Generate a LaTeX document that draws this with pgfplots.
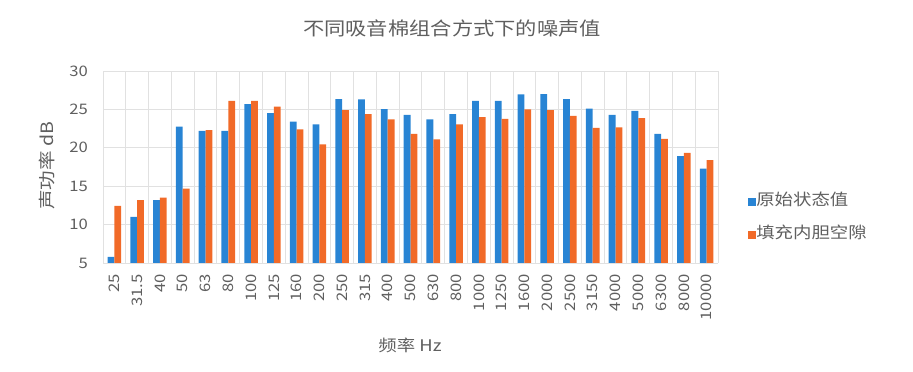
\documentclass[border=0pt]{standalone}
\usepackage{pgfplots}
\pgfplotsset{compat=1.18}
\usepackage{fontspec}
\setmainfont[FakeStretch=1.15]{Noto Sans CJK SC}
\definecolor{cblue}{RGB}{40,132,212}
\definecolor{corange}{RGB}{241,106,40}
\definecolor{txt}{RGB}{95,95,95}
\definecolor{gridc}{RGB}{225,225,225}
\pgfplotstableread{
x  a     b
0  5.8   12.45
1  11.0  13.2
2  13.2  13.5
3  22.75 14.7
4  22.2  22.3
5  22.2  26.1
6  25.7  26.1
7  24.5  25.35
8  23.4  22.4
9  23.05 20.45
10 26.35 24.9
11 26.3  24.4
12 25.05 23.7
13 24.3  21.8
14 23.7  21.1
15 24.4  23.05
16 26.1  24.0
17 26.1  23.75
18 26.95 25.0
19 27.0  24.9
20 26.35 24.15
21 25.1  22.6
22 24.3  22.65
23 24.8  23.85
24 21.8  21.15
25 18.9  19.35
26 17.3  18.4
}\datatable
\begin{document}
\begin{tikzpicture}[x=1pt,y=1pt]
\useasboundingbox (0,0) rectangle (913,372);
\begin{axis}[
  at={(103pt,109pt)}, anchor=south west,
  scale only axis, width=615pt, height=192pt,
  xmin=-0.5, xmax=26.5, ymin=5, ymax=30,
  ytick={5,10,...,30},
  xtick={0,...,26},
  xticklabels={25,31.5,40,50,63,80,100,125,160,200,250,315,400,500,630,800,1000,1250,1600,2000,2500,3150,4000,5000,6300,8000,10000},
  minor xtick={-0.5,0.5,...,26.5},
  xminorgrids, ymajorgrids,
  minor grid style={gridc, line width=0.8pt},
  major grid style={gridc, line width=0.8pt},
  axis line style={draw=none},
  major tick length=0pt, minor tick length=0pt,
  ybar=0pt, bar width=6.8pt,
  /pgf/number format/assume math mode=true,
  tick label style={font=\fontsize{14.5}{14.5}\selectfont, text=txt},
  xticklabel style={rotate=90, anchor=east, inner sep=0pt, xshift=-11pt},
  yticklabel style={inner sep=0pt, xshift=-15pt},
  legend style={at={(1.049,0.232)}, anchor=west, draw=none, fill=none,
    inner sep=0pt,
    font=\fontsize{16}{16}\selectfont, text=txt, row sep=17pt,
    nodes={inner sep=0pt, text height=12pt, text depth=4pt},
    /tikz/every even column/.append style={column sep=5pt}},
  legend cell align=left,
  area legend,
  legend image code/.code={\fill[#1] (0pt,-4pt) rectangle (8pt,4pt);},
]
\addplot[fill=cblue, draw=none] table[x=x,y=a] {\datatable};
\addplot[fill=corange, draw=none] table[x=x,y=b] {\datatable};
\legend{原始状态值,填充内胆空隙}
\end{axis}
\node[text=txt, font=\fontsize{18.5}{18.5}\selectfont] at (452,344) {不同吸音棉组合方式下的噪声值};
\node[text=txt, font=\fontsize{17}{17}\selectfont, rotate=90] at (47,206) {声功率 dB};
\node[text=txt, font=\fontsize{16}{16}\selectfont] at (410,27) {频率 Hz};
\end{tikzpicture}
\end{document}
